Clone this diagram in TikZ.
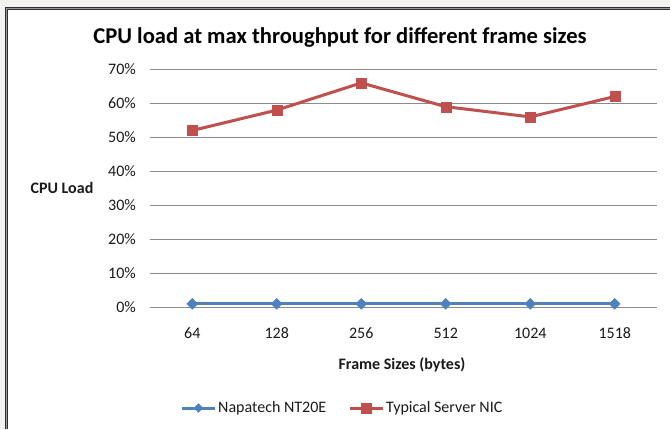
\documentclass[tikz,border=0pt]{standalone}
\usepackage{fontspec}
\setmainfont{Carlito}
\usetikzlibrary{shapes.geometric}
\definecolor{outerbg}{HTML}{F2F2F0}
\definecolor{frameDark}{HTML}{2E2E2E}
\definecolor{frameGray}{HTML}{9A9A9A}
\definecolor{gridc}{HTML}{8C8C8C}
\definecolor{seriesblue}{HTML}{4F81BD}
\definecolor{seriesred}{HTML}{C0504D}
\definecolor{labelc}{HTML}{1A1A1A}
\tikzset{
  gridline/.style={draw=gridc, line width=1pt},
  ticklbl/.style={font=\fontsize{16}{18}\selectfont, text=labelc, inner sep=0pt},
  bluemark/.style={diamond, fill=seriesblue, draw=seriesblue, inner sep=0pt, minimum width=11pt, minimum height=11pt},
  redmark/.style={rectangle, fill=seriesred, draw=seriesred, inner sep=0pt, minimum size=10pt},
  blueline/.style={draw=seriesblue, line width=3pt},
  redline/.style={draw=seriesred, line width=3pt},
}
\begin{document}
\begin{tikzpicture}[x=1pt,y=-1pt]
\useasboundingbox (0,0) rectangle (670,429);
% background and frame
\fill[outerbg] (0,0) rectangle (670,429);
\fill[white] (5,7) rectangle (670,429);
\draw[frameDark, line width=1pt] (5.5,429) -- (5.5,7.5) -- (670,7.5);
\draw[frameGray, line width=1pt] (6.5,429) -- (6.5,8.5) -- (670,8.5);
\draw[frameDark, line width=1pt] (7.5,429) -- (7.5,9.5) -- (670,9.5);
% title
\node[font=\bfseries\fontsize{22.6}{26}\selectfont, anchor=base, inner sep=0pt] (title) at (340,43) {CPU load at max throughput for different frame sizes};
% gridlines and y labels
\foreach \v in {0,10,...,70} {
  \draw[gridline] (150,{307.3-\v*3.4}) -- (657,{307.3-\v*3.4});
  \node[ticklbl, anchor=east] (y\v) at (136,{307.3-\v*3.4}) {\v\%};
}
% y axis title
\node[font=\bfseries\fontsize{16}{18}\selectfont, text=labelc, inner sep=0pt] (ytitle) at (62,188) {CPU Load};
% x labels
\foreach \i/\l in {1/64,2/128,3/256,4/512,5/1024,6/1518} {
  \node[ticklbl] (x\i) at ({150+84.5*(\i-0.5)},333.5) {\l};
}
\node[font=\bfseries\fontsize{16}{18}\selectfont, text=labelc, inner sep=0pt] (xtitle) at (402,365) {Frame Sizes (bytes)};
% data coordinates
\foreach \i/\r in {1/52,2/58,3/66,4/59,5/56,6/62} {
  \coordinate (b\i) at ({150+84.5*(\i-0.5)},{307.3-1*3.4});
  \coordinate (r\i) at ({150+84.5*(\i-0.5)},{307.3-\r*3.4});
}
\draw[blueline] (b1) -- (b2) -- (b3) -- (b4) -- (b5) -- (b6);
\draw[redline, line join=round] (r1) -- (r2) -- (r3) -- (r4) -- (r5) -- (r6);
\foreach \i in {1,...,6} {
  \node[bluemark] (mb\i) at (b\i) {};
  \node[redmark] (mr\i) at (r\i) {};
}
% legend
\coordinate (lb1) at (182,408);
\coordinate (lb2) at (215,408);
\draw[blueline] (lb1) -- (lb2);
\node[bluemark, minimum width=9pt, minimum height=9pt] (lbm) at (198.5,408) {};
\node[ticklbl, anchor=west] (lbt) at (218,408) {Napatech NT20E};
\coordinate (lr1) at (350,408);
\coordinate (lr2) at (383,408);
\draw[redline] (lr1) -- (lr2);
\node[redmark] (lrm) at (366.5,408) {};
\node[ticklbl, anchor=west] (lrt) at (386,408) {Typical Server NIC};
\end{tikzpicture}
\end{document}
